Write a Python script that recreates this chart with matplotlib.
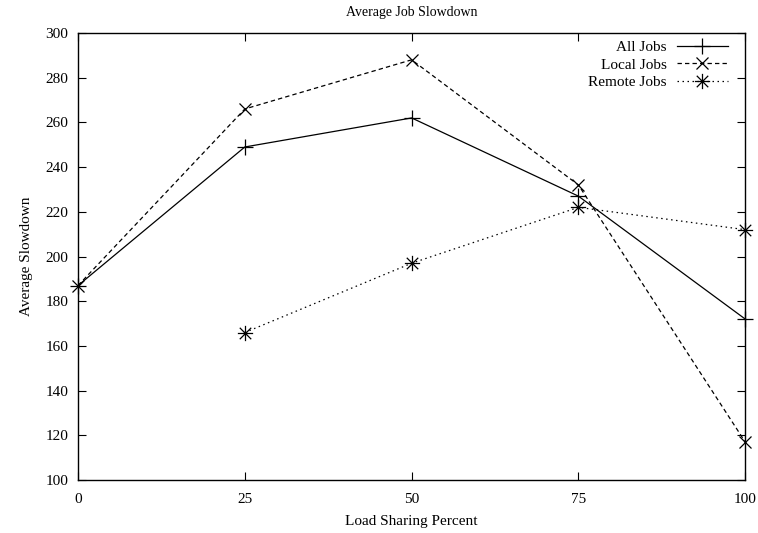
import matplotlib
matplotlib.use("Agg")
import matplotlib.pyplot as plt
from matplotlib.path import Path

# data
share = [0, 25, 50, 75, 100]
all_jobs = [187, 249, 262, 227, 172]
local_jobs = [187, 266, 288, 232, 117]
remote_share = [25, 50, 75, 100]
remote_jobs = [166, 197, 222, 212]

x_ticks = [0, 25, 50, 75, 100]
y_ticks = list(range(100, 301, 20))

plt.rcParams['font.family'] = ['Liberation Serif', 'DejaVu Serif']
plt.rcParams['font.size'] = 11

# gnuplot style asterisk: plus and cross on top of each other
star = Path([(-1, 0), (1, 0), (0, -1), (0, 1),
             (-0.75, -0.75), (0.75, 0.75), (-0.75, 0.75), (0.75, -0.75)],
            [Path.MOVETO, Path.LINETO] * 4)

fig = plt.figure(figsize=(7.58, 5.33), dpi=100)
ax = fig.add_axes([0.1029, 0.0994, 0.8803, 0.8387])

ax.plot(share, all_jobs, color='black', lw=0.9, marker='+', ms=11, mew=0.9,
        label='All Jobs', clip_on=False)
ax.plot(share, local_jobs, color='black', lw=0.9, ls=(0, (3.5, 2.5)), marker='x',
        ms=9, mew=0.9, label='Local Jobs', clip_on=False)
ax.plot(remote_share, remote_jobs, color='black', lw=0.9, ls=(0, (1.2, 2.8)),
        marker=star, ms=11, mew=0.9, label='Remote Jobs', clip_on=False)

ax.set_xlim(0, 100)
ax.set_ylim(100, 300)
ax.set_xticks(x_ticks)
ax.set_yticks(y_ticks)
ax.tick_params(direction='in', length=6, width=0.8, top=True, right=True)
ax.tick_params(axis='x', pad=9)
ax.tick_params(axis='y', pad=7)
for s in ax.spines.values():
    s.set_linewidth(1.0)

ax.set_title('Average Job Slowdown', fontsize=10, pad=12)
ax.set_xlabel('Load Sharing Percent', labelpad=7)
ax.set_ylabel('Average Slowdown', labelpad=9)

ax.legend(loc='upper right', frameon=False, markerfirst=False, handlelength=3.3,
          borderaxespad=0.1, labelspacing=0.25, handletextpad=0.7,
          bbox_to_anchor=(0.985, 1.0))

plt.savefig('out.png', dpi=100)
